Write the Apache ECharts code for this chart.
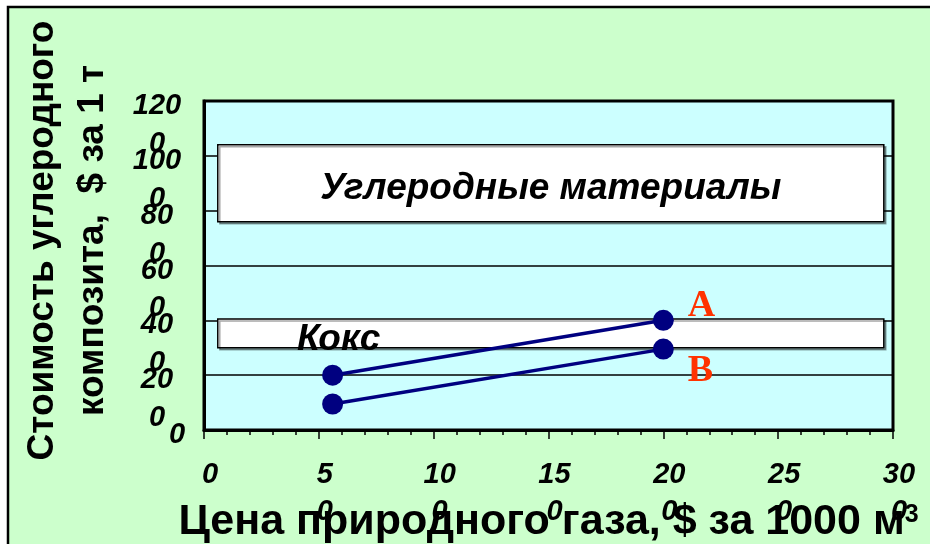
<!DOCTYPE html>
<html>
<head>
<meta charset="utf-8">
<style>
  html, body { margin: 0; padding: 0; background: #fff; }
  #chart { width: 930px; height: 544px; }
</style>
<script src="https://cdn.jsdelivr.net/npm/echarts@6/dist/echarts.min.js"></script>
</head>
<body>
<div id="chart"></div>
<script>
// values
const gasPrice = [56, 200];
const costA = [200, 400];
const costB = [95, 295];
const lineNames = ['A', 'B'];

const xTickLabels = ['0', '5\n0', '10\n0', '15\n0', '20\n0', '25\n0', '30\n0'];
const yTickLabels = ['0', '20\n0', '40\n0', '60\n0', '80\n0', '100\n0', '120\n0'];

const zoneNames = ['Углеродные материалы', 'Кокс'];
const zoneLow = [760, 300];
const zoneHigh = [1040, 405];
const zoneFrom = 6;
const zoneTo = 296;

const xTitle = 'Цена природного газа, $ за 1000 м';
const yTitle = 'Стоимость углеродного\nкомпозита,  $ за 1 т';

const SANS = '"Liberation Sans", Arial, sans-serif';
const SERIF = '"Liberation Serif", "Times New Roman", serif';
const tickFont = { fontFamily: SANS, fontStyle: 'italic', fontWeight: 'bold', fontSize: 29, color: '#000' };

const chart = echarts.init(document.getElementById('chart'));

// each wrapped y label spills its last digit onto the tick below,
// so that digit is drawn as the first line of the lower label
function yLabel(v, i) {
  const own = yTickLabels[i].split('\n')[0];
  const above = i + 1 < yTickLabels.length ? yTickLabels[i + 1].split('\n') : [];
  const carried = above.length > 1 ? above[1] : ' ';
  return '{c|' + carried + '}\n{' + (i === 0 ? 'z' : 'a') + '|' + own + '}';
}

function pointSeries(name, values, labelOffset, withZones) {
  const s = {
    name: name,
    type: 'line',
    z: 3,
    data: values.map((v, i) => ({
      value: [gasPrice[i], v],
      label: { show: i === values.length - 1 }
    })),
    symbol: 'circle',
    symbolSize: 21,
    lineStyle: { color: '#000080', width: 3.5 },
    itemStyle: { color: '#000080' },
    label: {
      formatter: name,
      position: 'right',
      distance: 14,
      offset: labelOffset,
      color: '#ff3300',
      fontFamily: SERIF,
      fontWeight: 'bold',
      fontSize: 38
    },
    emphasis: { disabled: true }
  };
  if (withZones) {
    s.markArea = {
      silent: true,
      itemStyle: {
        color: '#ffffff',
        opacity: 1,
        borderColor: '#000',
        borderWidth: 1.5,
        shadowColor: 'rgba(0,0,0,0.35)',
        shadowOffsetX: 2,
        shadowOffsetY: 2
      },
      data: zoneNames.map((n, i) => [
        {
          name: n,
          xAxis: zoneFrom,
          yAxis: zoneLow[i],
          label: i === 0
            ? { position: 'inside', offset: [0, 6] }
            : { position: 'insideLeft', offset: [75, 6] }
        },
        { xAxis: zoneTo, yAxis: zoneHigh[i] }
      ]),
      label: {
        show: true,
        color: '#000',
        fontFamily: SANS,
        fontStyle: 'italic',
        fontWeight: 'bold',
        fontSize: 37
      }
    };
  }
  return s;
}

const option = {
  animation: false,
  graphic: [{
    type: 'rect',
    z: -10,
    silent: true,
    shape: { x: 8, y: 7, width: 960, height: 600 },
    style: { fill: '#ccffcc', stroke: '#000', lineWidth: 2.5 }
  }],
  grid: {
    left: 204,
    top: 101,
    right: 37,
    bottom: 114,
    outerBoundsMode: 'none',
    containLabel: false,
    show: true,
    backgroundColor: '#ccffff',
    borderColor: '#000',
    borderWidth: 3
  },
  xAxis: {
    type: 'value',
    min: 0,
    max: 300,
    interval: 50,
    name: '{t|' + xTitle + '}{s|3}',
    nameLocation: 'middle',
    nameGap: 71,
    nameMoveOverlap: false,
    nameTextStyle: {
      rich: {
        t: { fontFamily: SANS, fontWeight: 'bold', fontSize: 43, color: '#000' },
        s: { fontFamily: SANS, fontWeight: 'bold', fontSize: 25, color: '#000', padding: [0, 0, 14, 0] }
      }
    },
    axisLine: { show: true, lineStyle: { color: '#000', width: 3 } },
    axisTick: { show: true, length: 9, lineStyle: { color: '#000', width: 1.5 } },
    minorTick: { show: true, splitNumber: 5, length: 5, lineStyle: { color: '#000', width: 1.5 } },
    splitLine: { show: false },
    axisLabel: Object.assign({
      formatter: (v, i) => xTickLabels[i],
      showMinLabel: true,
      showMaxLabel: true,
      verticalAlign: 'top',
      margin: 26,
      lineHeight: 37,
      padding: [0, 0, 0, 12]
    }, tickFont)
  },
  yAxis: {
    type: 'value',
    min: 0,
    max: 1200,
    interval: 200,
    name: yTitle,
    nameLocation: 'middle',
    nameRotate: 90,
    nameGap: 86,
    nameMoveOverlap: false,
    nameTextStyle: {
      fontFamily: SANS,
      fontWeight: 'bold',
      fontSize: 37,
      lineHeight: 50,
      color: '#000',
      padding: [0, 0, 0, 50]
    },
    axisLine: { show: true, lineStyle: { color: '#000', width: 3 } },
    axisTick: { show: false },
    splitLine: { show: true, lineStyle: { color: '#000', width: 1.5 } },
    axisLabel: Object.assign({
      formatter: yLabel,
      showMinLabel: true,
      showMaxLabel: true,
      align: 'center',
      verticalAlign: 'middle',
      margin: 47,
      rich: {
        c: Object.assign({ lineHeight: 10 }, tickFont),
        a: Object.assign({ lineHeight: 24 }, tickFont),
        z: Object.assign({ lineHeight: 24, padding: [0, 0, 0, 40] }, tickFont)
      }
    }, tickFont)
  },
  series: [
    pointSeries(lineNames[0], costA, [0, -14], true),
    pointSeries(lineNames[1], costB, [0, 22], false)
  ]
};

chart.setOption(option);
</script>
</body>
</html>
